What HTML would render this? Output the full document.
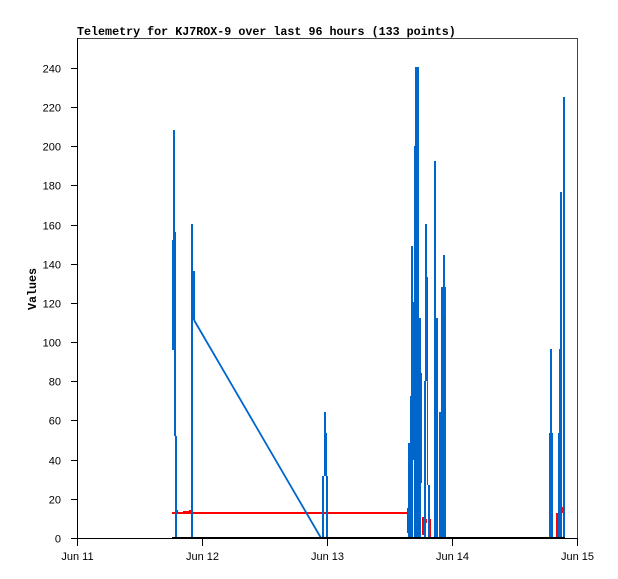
<!DOCTYPE html>
<html><head><meta charset="utf-8"><style>
html,body{margin:0;padding:0;background:#fff;}
svg{display:block;}
.t{font-family:"Liberation Sans",sans-serif;font-size:11px;fill:#000;}
.b{font-family:"Liberation Mono",monospace;font-size:11.7px;font-weight:bold;fill:#000;}
</style></head><body>
<svg width="618" height="579" xmlns="http://www.w3.org/2000/svg">
<rect width="618" height="579" fill="#fff"/>
<text class="b" x="77" y="35">Telemetry for KJ7ROX-9 over last 96 hours (133 points)</text>
<text class="b" transform="translate(36,289) rotate(-90)" text-anchor="middle">Values</text>
<g shape-rendering="crispEdges">
<path d="M77.5 38.5 H577.5 V538" stroke="#444" fill="none"/>
<line x1="77.5" y1="38" x2="77.5" y2="539" stroke="#000"/>
<line x1="77" y1="538.5" x2="578" y2="538.5" stroke="#000"/>
<g stroke="#000">
<line x1="71" y1="538.5" x2="77" y2="538.5"/>
<line x1="71" y1="499.5" x2="77" y2="499.5"/>
<line x1="71" y1="460.5" x2="77" y2="460.5"/>
<line x1="71" y1="420.5" x2="77" y2="420.5"/>
<line x1="71" y1="381.5" x2="77" y2="381.5"/>
<line x1="71" y1="342.5" x2="77" y2="342.5"/>
<line x1="71" y1="303.5" x2="77" y2="303.5"/>
<line x1="71" y1="264.5" x2="77" y2="264.5"/>
<line x1="71" y1="225.5" x2="77" y2="225.5"/>
<line x1="71" y1="185.5" x2="77" y2="185.5"/>
<line x1="71" y1="146.5" x2="77" y2="146.5"/>
<line x1="71" y1="107.5" x2="77" y2="107.5"/>
<line x1="71" y1="68.5" x2="77" y2="68.5"/>
<line x1="77.5" y1="538" x2="77.5" y2="546"/>
<line x1="202.5" y1="538" x2="202.5" y2="546"/>
<line x1="327.5" y1="538" x2="327.5" y2="546"/>
<line x1="452.5" y1="538" x2="452.5" y2="546"/>
<line x1="577.5" y1="538" x2="577.5" y2="546"/>
</g>
</g>
<g class="t" text-anchor="end">
<text x="61" y="542.5">0</text>
<text x="61" y="503.5">20</text>
<text x="61" y="464.5">40</text>
<text x="61" y="424.5">60</text>
<text x="61" y="385.5">80</text>
<text x="61" y="346.5">100</text>
<text x="61" y="307.5">120</text>
<text x="61" y="268.5">140</text>
<text x="61" y="229.5">160</text>
<text x="61" y="189.5">180</text>
<text x="61" y="150.5">200</text>
<text x="61" y="111.5">220</text>
<text x="61" y="72.5">240</text>
</g>
<g class="t" text-anchor="middle">
<text x="77.5" y="560">Jun 11</text>
<text x="202.5" y="560">Jun 12</text>
<text x="327.5" y="560">Jun 13</text>
<text x="452.5" y="560">Jun 14</text>
<text x="577.5" y="560">Jun 15</text>
</g>
<!-- red series -->
<g fill="#ff0000" shape-rendering="crispEdges">
<rect x="172" y="512" width="236" height="2"/>
<rect x="177" y="510" width="1" height="3"/>
<rect x="183" y="511" width="7" height="2"/>
<rect x="189" y="510" width="3" height="2"/>
<rect x="407" y="508" width="2" height="25"/>
<rect x="422" y="517" width="2" height="18"/>
<rect x="426" y="519" width="1" height="4"/>
<rect x="430" y="519" width="1" height="19"/>
<rect x="556" y="513" width="2" height="25"/>
<rect x="562" y="507" width="1" height="6"/>
</g>
<!-- blue series -->
<g fill="#0066cc" shape-rendering="crispEdges">
<rect x="172" y="240" width="2" height="110"/>
<rect x="173" y="130" width="2" height="220"/>
<rect x="174" y="232" width="2" height="204"/>
<rect x="175" y="436" width="2" height="102"/>
<rect x="191" y="224" width="2" height="314"/>
<rect x="193" y="271" width="2" height="49"/>
<rect x="322" y="476" width="2" height="62"/>
<rect x="324" y="412" width="2" height="64"/>
<rect x="325" y="433" width="2" height="43"/>
<rect x="326" y="476" width="2" height="62"/>
<rect x="408" y="443" width="2" height="95"/>
<rect x="410" y="396" width="2" height="142"/>
<rect x="411" y="246" width="2" height="292"/>
<rect x="413" y="302" width="1" height="158"/>
<rect x="414" y="146" width="2" height="392"/>
<rect x="415" y="67" width="4" height="471"/>
<rect x="419" y="318" width="2" height="220"/>
<rect x="421" y="373" width="1" height="110"/>
<rect x="424" y="381" width="2" height="157"/>
<rect x="425" y="224" width="2" height="157"/>
<rect x="427" y="277" width="1" height="208"/>
<rect x="428" y="485" width="2" height="53"/>
<rect x="434" y="161" width="2" height="377"/>
<rect x="436" y="318" width="2" height="220"/>
<rect x="439" y="412" width="2" height="126"/>
<rect x="441" y="287" width="5" height="251"/>
<rect x="443" y="255" width="2" height="32"/>
<rect x="549" y="433" width="4" height="105"/>
<rect x="550" y="349" width="2" height="84"/>
<rect x="558" y="433" width="2" height="105"/>
<rect x="559" y="349" width="2" height="84"/>
<rect x="560" y="192" width="2" height="346"/>
<rect x="563" y="97" width="2" height="441"/>
</g>
<polyline points="194,320 321,538" stroke="#0066cc" stroke-width="1.8" fill="none"/>
<!-- black series -->
<rect x="172" y="537" width="393" height="2" fill="#000" shape-rendering="crispEdges"/>
</svg>
</body></html>
